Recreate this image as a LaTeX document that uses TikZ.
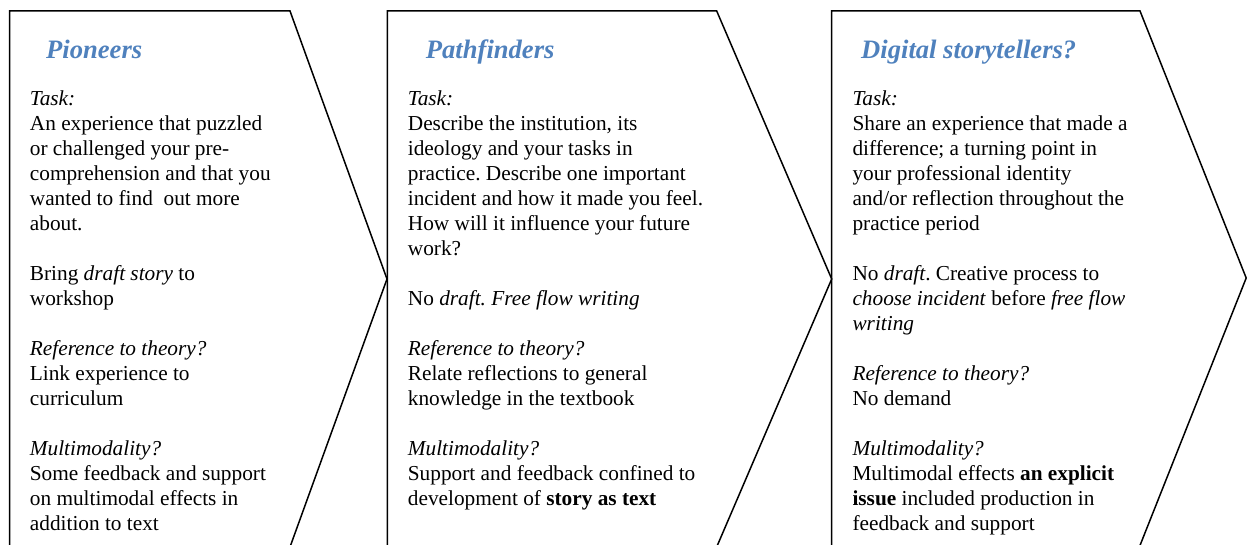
\documentclass[tikz,border=0pt]{standalone}
\usepackage{fontspec}
\setmainfont{Liberation Serif}
\frenchspacing
\definecolor{titleblue}{HTML}{4F81BD}
\tikzset{
  chevron/.style={draw=black, line width=1.5pt, line join=miter},
  body/.style={inner sep=0pt, anchor=base west, font=\fontsize{21.3}{25}\selectfont},
  title/.style={inner sep=0pt, anchor=base west, text=titleblue, font=\fontsize{26.6}{30}\selectfont\bfseries\itshape}
}
\newcommand\tline[1]{\hbox{#1}}
\newcommand\emptyline{\hbox{}}
\begin{document}
\begin{tikzpicture}[x=1pt,y=-1pt]
\useasboundingbox (0,0) rectangle (1247,545);
\clip (0,0) rectangle (1247,545);
% chevrons (bottom lies below the picture's edge)
\path[chevron] (9.5,570) -- (9.5,11) -- (290,11) -- (387,279) -- (285.3,560);
\path[chevron] (387.3,570) -- (387.3,11) -- (716.7,11) -- (831.7,279) -- (711.1,560);
\path[chevron] (831.7,570) -- (831.7,11) -- (1140,11) -- (1246.2,278) -- (1134.2,560);
% titles
\node[title] (h1) at (46,59) {Pioneers};
\node[title] (h2) at (425.7,59) {Pathfinders};
\node[title] (h3) at (861,59) {Digital storytellers?};
% bodies
\node[body] (b1) at (29.7,106) {\vtop{%
\tline{\textit{Task:}}
\tline{An experience that puzzled}
\tline{or challenged your pre-}
\tline{comprehension and that you}
\tline{wanted to find \ out more}
\tline{about.}
\emptyline
\tline{Bring \textit{draft story} to}
\tline{workshop}
\emptyline
\tline{\textit{Reference to theory?}}
\tline{Link experience to}
\tline{curriculum}
\emptyline
\tline{\textit{Multimodality?}}
\tline{Some feedback and support}
\tline{on multimodal effects in}
\tline{addition to text}}};
\node[body] (b2) at (407.7,106) {\vtop{%
\tline{\textit{Task:}}
\tline{Describe the institution, its}
\tline{ideology and your tasks in}
\tline{practice. Describe one important}
\tline{incident and how it made you feel.}
\tline{How will it influence your future}
\tline{work?}
\emptyline
\tline{No \textit{draft. Free flow writing}}
\emptyline
\tline{\textit{Reference to theory?}}
\tline{Relate reflections to general}
\tline{knowledge in the textbook}
\emptyline
\tline{\textit{Multimodality?}}
\tline{Support and feedback confined to}
\tline{development of \textbf{story as text}}}};
\node[body] (b3) at (852.3,106) {\vtop{%
\tline{\textit{Task:}}
\tline{Share an experience that made a}
\tline{difference; a turning point in}
\tline{your professional identity}
\tline{and/or reflection throughout the}
\tline{practice period}
\emptyline
\tline{No \textit{draft}. Creative process to}
\tline{\textit{choose incident} before \textit{free flow}}
\tline{\textit{writing}}
\emptyline
\tline{\textit{Reference to theory?}}
\tline{No demand}
\emptyline
\tline{\textit{Multimodality?}}
\tline{Multimodal effects \textbf{an explicit}}
\tline{\textbf{issue} included production in}
\tline{feedback and support}}};
\end{tikzpicture}
\end{document}
